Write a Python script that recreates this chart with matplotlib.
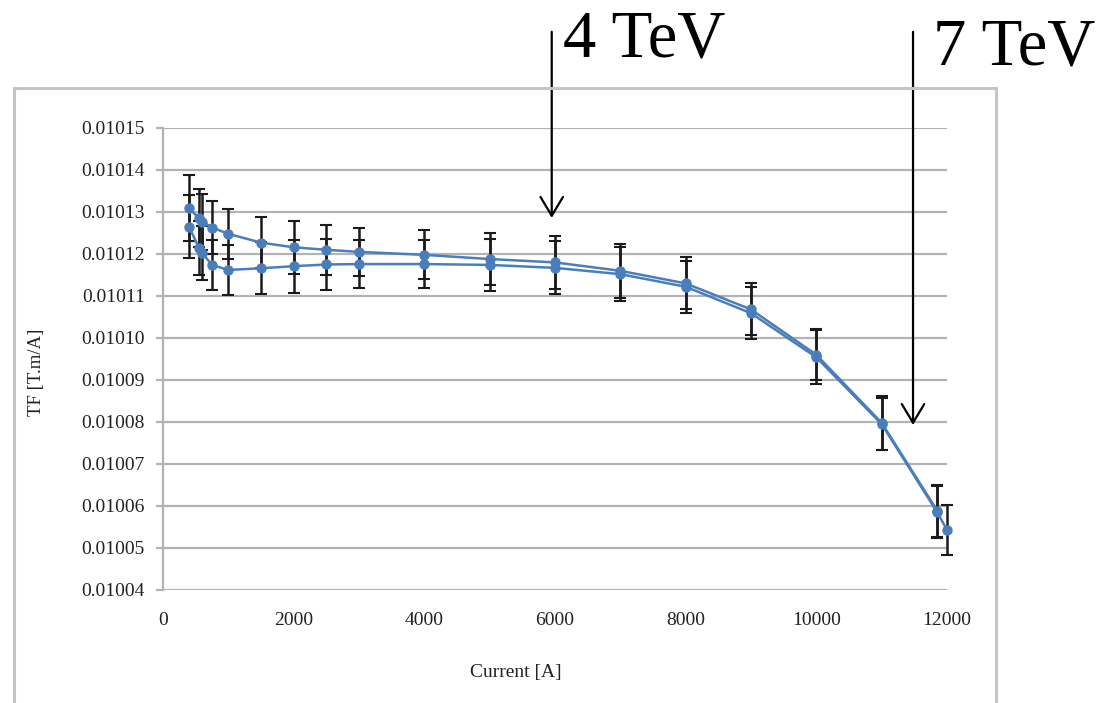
import matplotlib
matplotlib.use("Agg")
import matplotlib.pyplot as plt
from matplotlib.patches import Rectangle
from matplotlib.ticker import FormatStrFormatter

# ---- data ----
current_a = [400, 550, 600, 750, 1000, 1500, 2000, 2500, 3000, 4000, 5000,
             6000, 7000, 8000, 9000, 10000, 11000, 11850]
tf_a = [0.0101309, 0.0101285, 0.0101277, 0.0101263, 0.0101248, 0.0101227,
        0.0101216, 0.0101210, 0.0101205, 0.0101198, 0.0101188, 0.0101180,
        0.0101160, 0.0101130, 0.0101068, 0.0100960, 0.0100798, 0.0100589]
err_a = [0.79e-5, 0.69e-5, 0.67e-5, 0.64e-5, 0.59e-5, 0.60e-5, 0.63e-5,
         0.60e-5, 0.58e-5, 0.58e-5, 0.61e-5, 0.63e-5, 0.64e-5, 0.62e-5,
         0.62e-5, 0.61e-5, 0.64e-5, 0.62e-5]

current_b = [400, 550, 600, 750, 1000, 1500, 2000, 2500, 3000, 4000, 5000,
             6000, 7000, 8000, 9000, 10000, 11000, 11850, 12000]
tf_b = [0.0101265, 0.0101214, 0.0101202, 0.0101174, 0.0101162, 0.0101166,
        0.0101171, 0.0101175, 0.0101176, 0.0101176, 0.0101174, 0.0101167,
        0.0101152, 0.0101122, 0.0101059, 0.0100954, 0.0100795, 0.0100585,
        0.0100543]
err_b = [0.75e-5, 0.64e-5, 0.64e-5, 0.60e-5, 0.60e-5, 0.62e-5, 0.63e-5,
         0.61e-5, 0.58e-5, 0.58e-5, 0.61e-5, 0.63e-5, 0.64e-5, 0.62e-5,
         0.62e-5, 0.64e-5, 0.61e-5, 0.62e-5, 0.60e-5]

y_ticks = [0.01004, 0.01005, 0.01006, 0.01007, 0.01008, 0.01009, 0.01010,
           0.01011, 0.01012, 0.01013, 0.01014, 0.01015]
x_ticks = [0, 2000, 4000, 6000, 8000, 10000, 12000]

energy_labels = ["4 TeV", "7 TeV"]
energy_current = [5950, 11480]
energy_tip = [0.0101286, 0.0100793]

# ---- styling ----
plt.rcParams['font.family'] = ['Liberation Serif', 'DejaVu Serif']
blue = '#4A7EBB'
grid_c = '#B3B3B3'

fig = plt.figure(figsize=(11.02, 7.03), dpi=100)
ax = fig.add_axes([163/1102, 1-590/703, 784/1102, 462/703])

ax.set_xlim(0, 12000)
ax.set_ylim(0.01004, 0.01015)
ax.set_yticks(y_ticks)
ax.set_xticks(x_ticks)
ax.yaxis.set_major_formatter(FormatStrFormatter('%.5f'))
ax.grid(axis='y', color=grid_c, lw=1.6)
ax.grid(axis='x', visible=False)
ax.set_axisbelow(True)
for s in ['top', 'right', 'bottom']:
    ax.spines[s].set_visible(False)
ax.spines['left'].set_color(grid_c)
ax.spines['left'].set_linewidth(1.6)
ax.tick_params(axis='y', length=5, width=1.6, color=grid_c, pad=8,
               labelsize=14, labelcolor='#222222')
ax.tick_params(axis='x', length=0, pad=16, labelsize=14, labelcolor='#222222')

# error bars (black) beneath lines/markers
ax.errorbar(current_a, tf_a, yerr=err_a, fmt='none', ecolor='#1a1a1a',
            elinewidth=1.8, capsize=4.5, capthick=1.5, zorder=2, clip_on=False)
ax.errorbar(current_b, tf_b, yerr=err_b, fmt='none', ecolor='#1a1a1a',
            elinewidth=1.8, capsize=4.5, capthick=1.5, zorder=2, clip_on=False)

ax.plot(current_a, tf_a, color=blue, lw=1.8, marker='o', ms=6.5,
        mec=blue, mfc=blue, zorder=3, clip_on=False)
ax.plot(current_b, tf_b, color=blue, lw=1.8, marker='o', ms=6.5,
        mec=blue, mfc=blue, zorder=3, clip_on=False)

# axis titles
fig.text(516/1102, 1-672/703, 'Current [A]', ha='center', va='center',
         fontsize=14, color='#222222')
fig.text(36/1102, 1-372/703, 'TF [T.m/A]', ha='center', va='center',
         rotation=90, fontsize=13.5, color='#222222')

# chart area frame
fig.patches.append(Rectangle((14/1102, -0.01), (996-14)/1102, 1-88/703+0.01,
                             transform=fig.transFigure, fill=False,
                             edgecolor='#C4C4C4', lw=2.2, zorder=0))

# energy arrows and labels
top_val = 0.0101729
text_pos = [(563, 57), (933, 64)]
for lab, xc, tip, (tx, ty) in zip(energy_labels, energy_current, energy_tip, text_pos):
    ax.annotate('', xy=(xc, tip), xytext=(xc, top_val),
                arrowprops=dict(arrowstyle='->,head_length=0.45,head_width=0.27',
                                lw=1.6, color='black', mutation_scale=30,
                                shrinkA=0, shrinkB=0),
                annotation_clip=False, zorder=5)
    fig.text(tx/1102, 1-ty/703, lab, ha='left', va='baseline', fontsize=48,
             color='black')

fig.savefig('out.png', dpi=100)
